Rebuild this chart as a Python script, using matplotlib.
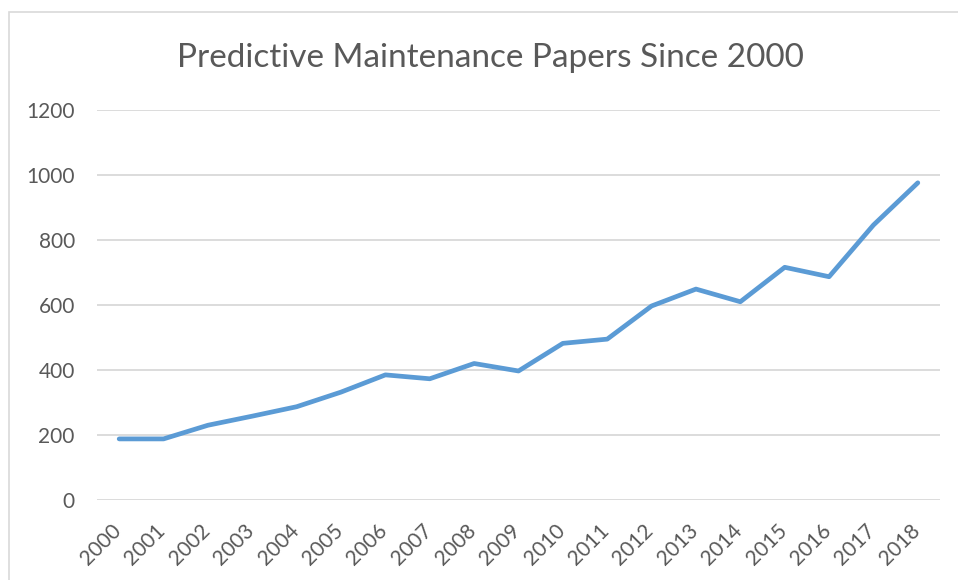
import matplotlib.pyplot as plt
import matplotlib.transforms as mtransforms
from matplotlib.patches import Rectangle

years = [str(y) for y in range(2000, 2019)]
papers = [188, 188, 230, 258, 287, 332, 385, 373, 420, 397,
          482, 495, 597, 649, 610, 716, 687, 846, 976]
y_ticks = [0, 200, 400, 600, 800, 1000, 1200]

plt.rcParams['font.family'] = ['Lato', 'DejaVu Sans']
text_gray = '#595959'

fig = plt.figure(figsize=(9.58, 5.8), dpi=100)
ax = fig.add_axes([97/958, 80/580, 843/958, 390/580])

# light border of the chart area, cut at the right/bottom edge like the screenshot
fig.patches.append(Rectangle((9/958, -0.05), 1.0, (580-12)/580 + 0.05,
                             transform=fig.transFigure, fill=False,
                             edgecolor='#D9D9D9', linewidth=1.2))

x = list(range(len(years)))
ax.plot(x, papers, color='#5B9BD5', linewidth=3.4, solid_capstyle='round',
        solid_joinstyle='round', zorder=3)

ax.set_xlim(-0.5, len(years) - 0.5)
ax.set_ylim(0, 1200)
ax.set_yticks(y_ticks)
ax.grid(axis='y', color='#D9D9D9', linewidth=1.3)
ax.set_axisbelow(True)
for side in ['top', 'right', 'left', 'bottom']:
    ax.spines[side].set_visible(False)
ax.tick_params(axis='both', length=0, labelsize=15, labelcolor=text_gray)
ax.tick_params(axis='y', pad=16)
ax.tick_params(axis='x', pad=15)

ax.set_xticks(x)
ax.set_xticklabels(years, rotation=45, ha='right', va='top')
offset = mtransforms.ScaledTranslation(6/100, 0, fig.dpi_scale_trans)
for lbl in ax.get_xticklabels():
    lbl.set_transform(lbl.get_transform() + offset)

fig.text(490/958, 1 - 67/580, 'Predictive Maintenance Papers Since 2000',
         ha='center', va='baseline', fontsize=24, color=text_gray)

fig.savefig('out.png', dpi=100)
